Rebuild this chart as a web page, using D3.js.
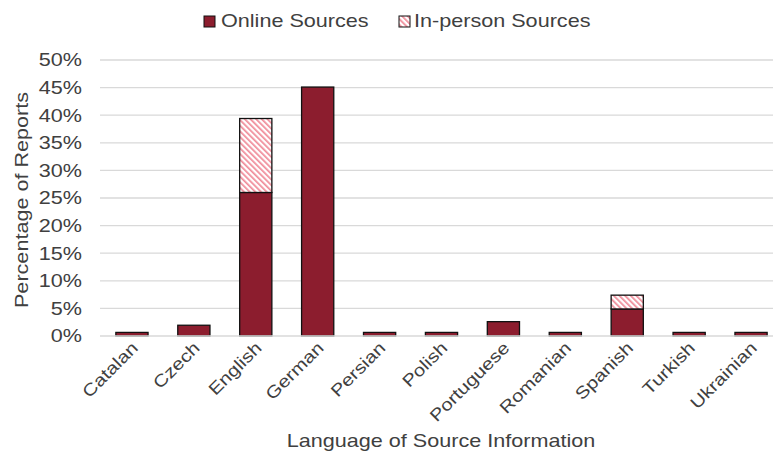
<!DOCTYPE html>
<html><head><meta charset="utf-8">
<script src="https://cdn.jsdelivr.net/npm/d3@7"></script>
<style>body{margin:0;background:#fff}svg{display:block;font-family:"Liberation Sans",Arial,sans-serif}</style>
</head><body><svg id="c" width="773" height="461"></svg>
<script>
const categories = ["Catalan","Czech","English","German","Persian","Polish","Portuguese","Romanian","Spanish","Turkish","Ukrainian"];
const online = [0.65,1.95,26.0,45.1,0.65,0.65,2.6,0.65,4.9,0.65,0.65];
const inperson = [0,0,13.4,0,0,0,0,0,2.5,0,0];
const yTicks = [0,5,10,15,20,25,30,35,40,45,50];
const seriesNames = ["Online Sources","In-person Sources"];

const SX = 1.2;
const svg = d3.select("#c");
const dark = "#8C1D2E";
const txt = "#404040";
const defs = svg.append("defs");
const pat = defs.append("pattern").attr("id","hatch").attr("patternUnits","userSpaceOnUse")
  .attr("width",4).attr("height",4).attr("patternTransform","rotate(-45)");
pat.append("rect").attr("width",4).attr("height",4).attr("fill","#fff");
pat.append("rect").attr("width",1.7).attr("height",4).attr("fill","#F08A98");

const x = d3.scaleBand().domain(categories).range([101,782]).paddingInner(0.48).paddingOuter(0.24);
const y = d3.scaleLinear().domain([0,50]).range([336,60]);

// grid
svg.append("g").selectAll("line").data(yTicks.filter(d=>d>0)).join("line")
  .attr("x1",100).attr("x2",773).attr("y1",d=>y(d)).attr("y2",d=>y(d))
  .attr("stroke","#d9d9d9").attr("stroke-width",1.3);

// y labels
svg.append("g").selectAll("text").data(yTicks).join("text")
  .attr("transform",d=>`translate(82,${y(d)}) scale(${SX},1)`).attr("dy","0.36em").attr("text-anchor","end")
  .attr("font-size",18).attr("fill",txt).text(d=>d+"%");

// bars
const g = svg.append("g");
g.selectAll("rect.on").data(categories).join("rect").attr("class","on")
  .attr("x",d=>x(d)).attr("width",x.bandwidth())
  .attr("y",(d,i)=>y(online[i])).attr("height",(d,i)=>y(0)-y(online[i]))
  .attr("fill",dark).attr("stroke","#111").attr("stroke-width",1.3);
const ipCats = categories.filter((d,i)=>inperson[i]>0);
g.selectAll("rect.ip").data(ipCats).join("rect").attr("class","ip")
  .attr("x",d=>x(d)).attr("width",x.bandwidth())
  .attr("y",d=>{const i=categories.indexOf(d);return y(online[i]+inperson[i]);})
  .attr("height",d=>{const i=categories.indexOf(d);return y(online[i])-y(online[i]+inperson[i]);})
  .attr("fill","url(#hatch)").attr("stroke","#111").attr("stroke-width",1.3);

// axis line
svg.append("line").attr("x1",100).attr("x2",773).attr("y1",y(0)).attr("y2",y(0))
  .attr("stroke","#d9d9d9").attr("stroke-width",1.3);

// x labels
svg.append("g").selectAll("text").data(categories).join("text")
  .attr("transform",d=>`translate(${x(d)+x.bandwidth()/2+7},${349}) rotate(-45) scale(${SX},1)`)
  .attr("text-anchor","end").attr("font-size",17).attr("fill",txt).text(d=>d);

// axis titles
svg.append("text").attr("transform",`translate(28,200) rotate(-90) scale(${SX},1)`).attr("text-anchor","middle")
  .attr("font-size",18).attr("fill",txt).text("Percentage of Reports");
svg.append("text").attr("transform",`translate(441,447) scale(${SX},1)`).attr("text-anchor","middle")
  .attr("font-size",18).attr("fill",txt).text("Language of Source Information");

// legend
const lg = svg.append("g");
lg.append("rect").attr("x",204).attr("y",16).attr("width",11).attr("height",11).attr("fill",dark).attr("stroke","#111");
lg.append("text").attr("transform",`translate(221,27) scale(${SX},1)`).attr("font-size",18).attr("fill",txt).text(seriesNames[0]);
lg.append("rect").attr("x",399).attr("y",16).attr("width",11).attr("height",11).attr("fill","url(#hatch)").attr("stroke","#111");
lg.append("text").attr("transform",`translate(414,27) scale(${SX},1)`).attr("font-size",18).attr("fill",txt).text(seriesNames[1]);
</script></body></html>
